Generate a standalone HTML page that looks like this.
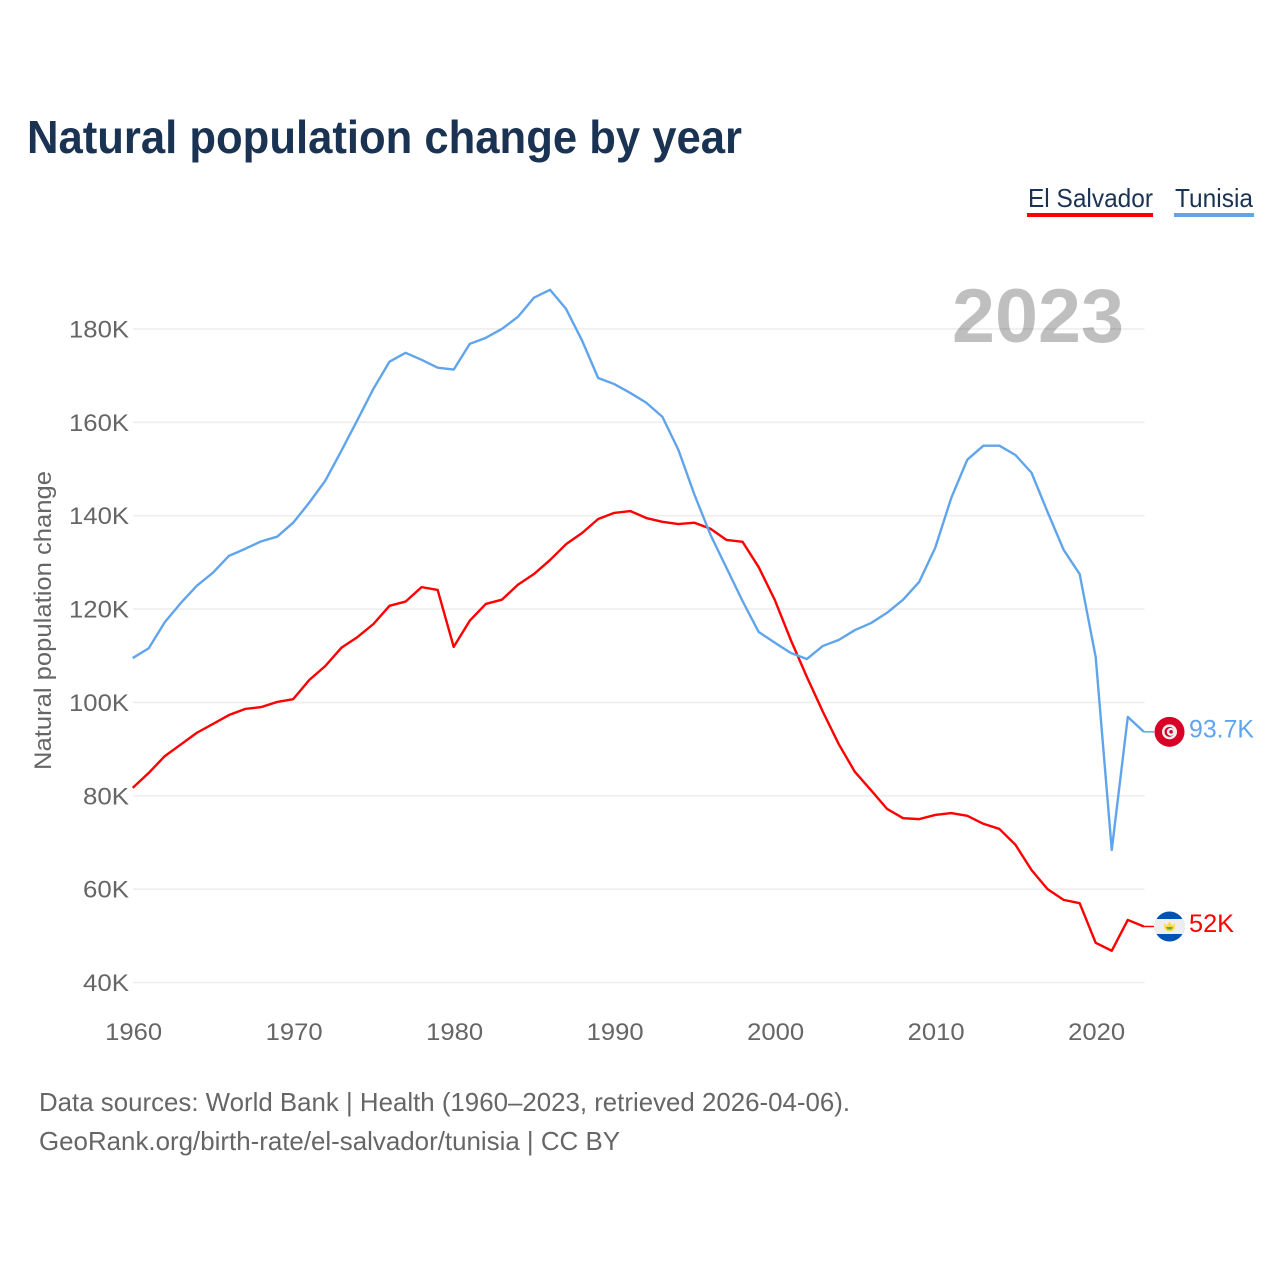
<!DOCTYPE html>
<html lang="en">
<head>
<meta charset="utf-8">
<title>Natural population change by year</title>
<style>
html,body{margin:0;padding:0;background:#fff;}
svg{display:block;font-family:"Liberation Sans",sans-serif;}
</style>
</head>
<body>
<svg id="chart" xmlns="http://www.w3.org/2000/svg" width="1280" height="1280" viewBox="0 0 1280 1280">
  <rect x="0" y="0" width="1280" height="1280" fill="#fff"/>
  <text x="27" y="153" font-size="46" font-weight="700" fill="#1a3353" textLength="715" lengthAdjust="spacingAndGlyphs">Natural population change by year</text>

  <g>
    <g>
      <text x="1028" y="207" font-size="26" fill="#1a3353" textLength="125" lengthAdjust="spacingAndGlyphs">El Salvador</text>
      <rect x="1027" y="213" width="126" height="4" fill="#ff0000"/>
    </g>
    <g>
      <text x="1175" y="207" font-size="26" fill="#1a3353" textLength="78" lengthAdjust="spacingAndGlyphs">Tunisia</text>
      <rect x="1174" y="213" width="80" height="4" fill="#60a5ec"/>
    </g>
  </g>

  <g id="grid"></g>
  <g id="yticks"></g>
  <g id="xticks"></g>

  <text transform="translate(51,770) rotate(-90)" x="0" y="0" font-size="24.5" fill="#666" textLength="299" lengthAdjust="spacingAndGlyphs">Natural population change</text>

  <text x="952" y="342" font-size="76" font-weight="700" fill="#000" fill-opacity="0.25" textLength="172" lengthAdjust="spacingAndGlyphs">2023</text>

  <g id="series"></g>
  <g id="ends"></g>

  <text x="39" y="1111" font-size="26" fill="#666" textLength="811" lengthAdjust="spacingAndGlyphs">Data sources: World Bank | Health (1960–2023, retrieved 2026-04-06).</text>
  <text x="39" y="1150" font-size="26" fill="#666" textLength="581" lengthAdjust="spacingAndGlyphs">GeoRank.org/birth-rate/el-salvador/tunisia | CC BY</text>
</svg>
<script>
var years = [1960,1961,1962,1963,1964,1965,1966,1967,1968,1969,1970,1971,1972,1973,1974,1975,1976,1977,1978,1979,1980,1981,1982,1983,1984,1985,1986,1987,1988,1989,1990,1991,1992,1993,1994,1995,1996,1997,1998,1999,2000,2001,2002,2003,2004,2005,2006,2007,2008,2009,2010,2011,2012,2013,2014,2015,2016,2017,2018,2019,2020,2021,2022,2023];
var tunisiaValues = [109.5,111.6,117.2,121.3,125,127.8,131.4,132.9,134.5,135.5,138.5,142.8,147.5,153.9,160.5,167.2,173,174.9,173.4,171.7,171.3,176.8,178.1,180,182.6,186.7,188.4,184.3,177.5,169.5,168.2,166.3,164.2,161.2,154.1,144.5,135.9,128.8,121.7,115.1,112.8,110.6,109.3,112.1,113.4,115.5,117,119.2,122,125.8,133.1,143.8,152,155,155,153,149.2,140.8,132.7,127.5,109.7,68.4,96.9,93.7];
var elSalvadorValues = [81.7,84.9,88.5,91,93.5,95.4,97.3,98.6,99,100.1,100.7,104.8,107.8,111.7,114,116.8,120.7,121.6,124.7,124.1,111.9,117.5,121.1,122,125.2,127.5,130.5,133.9,136.3,139.3,140.6,141,139.5,138.7,138.2,138.5,137.2,134.8,134.4,129,122,113.4,105.5,98,91,85.1,81.2,77.2,75.2,75,75.9,76.3,75.7,74,72.9,69.5,64.1,60,57.7,57,48.5,46.8,53.4,52];
var yTickValues = [40,60,80,100,120,140,160,180];
var xTickValues = [1960,1970,1980,1990,2000,2010,2020];
var tunisiaEndLabel = "93.7K";
var elSalvadorEndLabel = "52K";

var NS = "http://www.w3.org/2000/svg";
function xScale(year){ return 132.7 + (year - 1960) * 16.05; }
function yScale(value){ return 982.5 - (value - 40) * 4.668; }
function make(tag, attrs, parent){
  var el = document.createElementNS(NS, tag);
  for (var k in attrs) { el.setAttribute(k, attrs[k]); }
  parent.appendChild(el);
  return el;
}
var gridG = document.getElementById("grid");
var yG = document.getElementById("yticks");
var xG = document.getElementById("xticks");
var seriesG = document.getElementById("series");
var endsG = document.getElementById("ends");

yTickValues.forEach(function(v){
  var line = make("line", {x1:133, x2:1144.5, y1:yScale(v), y2:yScale(v), stroke:"#eeeeee", "stroke-width":1.6}, gridG);
  
  
  var label = v + "K";
  var t = make("text", {x:129, y:yScale(v) + 8.5, "text-anchor":"end", "font-size":24.5, fill:"#666", textLength:label.length > 3 ? 60 : 46, lengthAdjust:"spacingAndGlyphs"}, yG);
  
  
  t.textContent = label;
});

xTickValues.forEach(function(y){
  var t = make("text", {x:xScale(y) + 1, y:1040, "text-anchor":"middle", "font-size":24.5, fill:"#666", textLength:57, lengthAdjust:"spacingAndGlyphs"}, xG);
  
  
  t.textContent = y;
});

function pathFor(values){
  return values.map(function(v, i){
    return (i ? "L" : "M") + xScale(years[i]).toFixed(2) + " " + yScale(v).toFixed(2);
  }).join("");
}

var redLine = make("path", {d:pathFor(elSalvadorValues), fill:"none", stroke:"#ff0000", "stroke-width":2.4, "stroke-linejoin":"round"}, seriesG);


var blueLine = make("path", {d:pathFor(tunisiaValues), fill:"none", stroke:"#60a5ec", "stroke-width":2.4, "stroke-linejoin":"round"}, seriesG);



var endX = xScale(years[years.length - 1]);
var flagX = 1169.5;

/* Tunisia end marker */
var ty = yScale(tunisiaValues[tunisiaValues.length - 1]);
var tLead = make("line", {x1:endX, x2:1154, y1:ty, y2:ty, stroke:"#60a5ec", "stroke-width":1.5}, endsG);


var tFlag = make("g", {transform:"translate(" + flagX + "," + ty + ")"}, endsG);


make("circle", {cx:0, cy:0, r:15, fill:"#d80027"}, tFlag);
make("circle", {cx:0, cy:0, r:7.5, fill:"#f0f0f0"}, tFlag);
make("circle", {cx:0, cy:0, r:5, fill:"#d80027"}, tFlag);
make("circle", {cx:1.3, cy:0, r:4, fill:"#f0f0f0"}, tFlag);
make("circle", {cx:1.6, cy:0, r:1.8, fill:"#d80027"}, tFlag);
var tLabel = make("text", {x:1189, y:ty + 5.5, "font-size":25, fill:"#60a5ec", textLength:65, lengthAdjust:"spacingAndGlyphs"}, endsG);


tLabel.textContent = tunisiaEndLabel;

/* El Salvador end marker */
var sy = yScale(elSalvadorValues[elSalvadorValues.length - 1]);
var sLead = make("line", {x1:endX, x2:1154, y1:sy, y2:sy, stroke:"#ff0000", "stroke-width":1.5}, endsG);


var sFlag = make("g", {transform:"translate(" + flagX + "," + sy + ")"}, endsG);


make("circle", {cx:0, cy:0, r:15, fill:"#0052b4"}, sFlag);
make("path", {d:"M-13 -7.5H13A15 15 0 0 1 13 7.5H-13A15 15 0 0 1 -13 -7.5Z", fill:"#eeeeee"}, sFlag);
make("path", {d:"M-5.5 -3.5L-2.8 -1L0 -5L2.8 -1L5.5 -3.5L5 2.5Q3 5 0 5Q-3 5 -5 2.5Z", fill:"#ffda44"}, sFlag);
make("path", {d:"M-3.5 0.5H3.5L2 3H-2Z", fill:"#6da544"}, sFlag);
var sLabel = make("text", {x:1189, y:sy + 5.5, "font-size":25, fill:"#ff0000", textLength:45, lengthAdjust:"spacingAndGlyphs"}, endsG);


sLabel.textContent = elSalvadorEndLabel;
</script>
</body>
</html>
